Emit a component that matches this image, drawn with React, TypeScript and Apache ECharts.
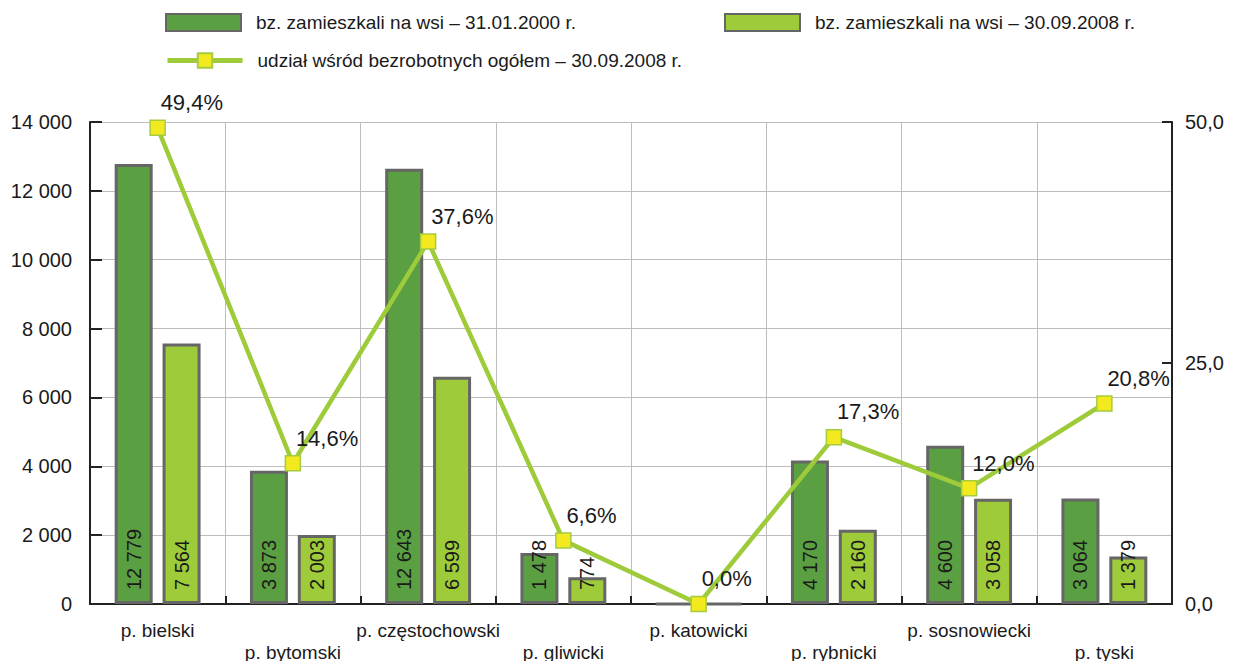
import React, { useEffect, useRef } from "react";
import * as echarts from "echarts";

const categories = [
  "p. bielski",
  "p. bytomski",
  "p. częstochowski",
  "p. gliwicki",
  "p. katowicki",
  "p. rybnicki",
  "p. sosnowiecki",
  "p. tyski",
];
const rural2000 = [12779, 3873, 12643, 1478, 0, 4170, 4600, 3064];
const rural2008 = [7564, 2003, 6599, 774, 0, 2160, 3058, 1379];
const share2008 = [49.4, 14.6, 37.6, 6.6, 0.0, 17.3, 12.0, 20.8];

const seriesNames = [
  "bz. zamieszkali na wsi – 31.01.2000 r.",
  "bz. zamieszkali na wsi – 30.09.2008 r.",
  "udział wśród bezrobotnych ogółem – 30.09.2008 r.",
];

const FONT = "'Liberation Sans', Arial, Helvetica, sans-serif";
const DARK = "#5aa042";
const LIGHT = "#9dcb3a";
const BORDER = "#666666";
const TEXT = "#1a1a1a";

const fmtThousands = (v: number) =>
  String(v).replace(/\B(?=(\d{3})+(?!\d))/g, " ");

export default function App() {
  const ref = useRef<HTMLDivElement>(null);
  useEffect(() => {
    if (!ref.current) return;
    const chart = echarts.init(ref.current, null, { renderer: "svg" });
    const barLabel = {
      show: true,
      position: "insideBottom",
      rotate: 90,
      align: "left",
      verticalAlign: "middle",
      distance: 14,
      fontSize: 20,
      fontFamily: FONT,
      color: TEXT,
      formatter: (p: any) => (p.value ? fmtThousands(p.value) : ""),
    };
    const legendText = { fontSize: 19, fontFamily: FONT, color: TEXT, padding: [0, 0, 0, 10] };
    chart.setOption({
      animation: false,
      backgroundColor: "#ffffff",
      textStyle: { fontFamily: FONT },
      legend: [
        {
          data: [{ name: seriesNames[0], icon: "rect" }],
          left: 165,
          top: 13,
          padding: 0,
          itemWidth: 75,
          itemHeight: 17,
          textStyle: legendText,
        },
        {
          data: [{ name: seriesNames[1], icon: "rect" }],
          left: 724,
          top: 13,
          padding: 0,
          itemWidth: 75,
          itemHeight: 17,
          textStyle: legendText,
        },
        {
          data: [seriesNames[2]],
          left: 165,
          top: 51,
          padding: 0,
          itemWidth: 75,
          itemHeight: 18,
          lineStyle: { width: 5 },
          textStyle: legendText,
        },
      ],
      grid: {
        left: 90,
        right: 61,
        top: 122,
        bottom: 57,
        containLabel: false,
        outerBoundsMode: "none",
      },
      xAxis: {
        type: "category",
        data: categories,
        boundaryGap: true,
        axisLine: { show: true, lineStyle: { color: "#222", width: 2 } },
        axisTick: { show: true, inside: true, length: 8, lineStyle: { color: "#222", width: 2 } },
        splitLine: { show: true, lineStyle: { color: "#bdbdbd", width: 1 } },
        axisLabel: {
          fontSize: 19,
          fontFamily: FONT,
          color: TEXT,
          margin: 15,
          lineHeight: 22,
          interval: 0,
          formatter: (v: string, i: number) => (i % 2 === 1 ? "\n" + v : v),
        },
      },
      yAxis: [
        {
          type: "value",
          min: 0,
          max: 14000,
          interval: 2000,
          axisLine: { show: true, lineStyle: { color: "#222", width: 2 } },
          axisTick: { show: true, inside: true, length: 12, lineStyle: { color: "#222", width: 2 } },
          splitLine: { show: true, lineStyle: { color: "#bdbdbd", width: 1 } },
          axisLabel: {
            fontSize: 20,
            fontFamily: FONT,
            color: TEXT,
            margin: 18,
            formatter: (v: number) => fmtThousands(v),
          },
        },
        {
          type: "value",
          min: 0,
          max: 50,
          interval: 25,
          position: "right",
          axisLine: { show: true, lineStyle: { color: "#222", width: 2 } },
          axisTick: { show: true, inside: true, length: 10, lineStyle: { color: "#222", width: 2 } },
          splitLine: { show: false },
          axisLabel: {
            fontSize: 20,
            fontFamily: FONT,
            color: TEXT,
            margin: 13,
            formatter: (v: number) => v.toFixed(1).replace(".", ","),
          },
        },
      ],
      series: [
        {
          name: seriesNames[0],
          type: "bar",
          data: rural2000,
          barWidth: 38,
          barGap: "26%",
          itemStyle: { color: DARK, borderColor: BORDER, borderWidth: 3 },
          label: barLabel,
          z: 2,
        },
        {
          name: seriesNames[1],
          type: "bar",
          data: rural2008,
          barWidth: 38,
          barGap: "26%",
          itemStyle: { color: LIGHT, borderColor: BORDER, borderWidth: 3 },
          label: barLabel,
          z: 2,
        },
        {
          name: seriesNames[2],
          type: "line",
          yAxisIndex: 1,
          data: share2008,
          symbol: "rect",
          symbolSize: 15,
          lineStyle: { color: "#9dcb3a", width: 4.5 },
          itemStyle: { color: "#f2ea1e", borderColor: "#a5cc3f", borderWidth: 1.5 },
          label: {
            show: true,
            position: "top",
            distance: 6,
            align: "left",
            offset: [3, 0],
            fontSize: 22,
            fontFamily: FONT,
            color: TEXT,
            formatter: (p: any) => p.value.toFixed(1).replace(".", ",") + "%",
          },
          z: 5,
        },
      ],
    });
    return () => chart.dispose();
  }, []);
  return (
    <div
      ref={ref}
      style={{ position: "fixed", left: 0, top: 0, width: 1233, height: 661, background: "#fff" }}
    />
  );
}
